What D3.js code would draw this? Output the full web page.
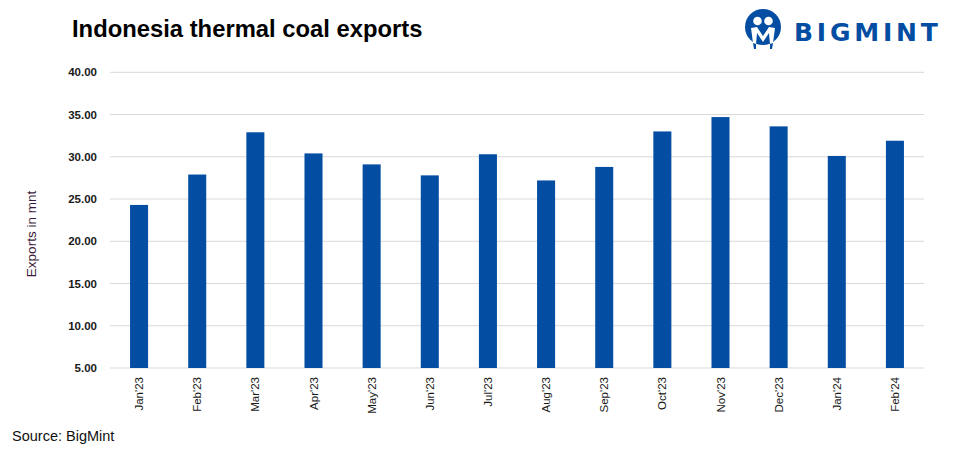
<!DOCTYPE html>
<html>
<head>
<meta charset="utf-8">
<script src="https://cdn.jsdelivr.net/npm/d3@7"></script>
<style>
  body { margin: 0; background: #fff; }
  svg { display: block; font-family: "Liberation Sans", Arial, sans-serif; }
</style>
</head>
<body>
<svg id="chart" width="960" height="450"></svg>
<script>
const months = ["Jan'23", "Feb'23", "Mar'23", "Apr'23", "May'23", "Jun'23", "Jul'23",
  "Aug'23", "Sep'23", "Oct'23", "Nov'23", "Dec'23", "Jan'24", "Feb'24"];
const exports_mnt = [24.3, 27.9, 32.9, 30.4, 29.1, 27.8, 30.3, 27.2, 28.8, 33.0, 34.7, 33.6, 30.1, 31.9];
const y_ticks = [5, 10, 15, 20, 25, 30, 35, 40];

(function() {
  const svg = d3.select('#chart');
  const bar_color = '#034ea2';

  const xScale = d3.scaleBand().domain(months).range([110, 924]).paddingInner(0.69).paddingOuter(0.345);
  const yScale = d3.scaleLinear().domain([5, 40]).range([368, 72.3]);

  // title
  svg.append('text').attr('x', 72).attr('y', 37).attr('font-size', 23.8).attr('font-weight', 'bold')
    .attr('fill', '#000').text('Indonesia thermal coal exports');

  // gridlines
  svg.append('g').selectAll('line').data(y_ticks).enter().append('line')
    .attr('x1', 110).attr('x2', 924)
    .attr('y1', function(d) { return yScale(d); }).attr('y2', function(d) { return yScale(d); })
    .attr('stroke', '#d9d9d9').attr('stroke-width', 1);

  // y tick labels
  svg.append('g').selectAll('text').data(y_ticks).enter().append('text')
    .attr('x', 97).attr('y', function(d) { return yScale(d) + 4; })
    .attr('text-anchor', 'end').attr('font-size', 11.5).attr('font-weight', 'bold').attr('fill', '#1a1a1a')
    .text(function(d) { return d3.format('.2f')(d); });

  // y axis title
  svg.append('text').attr('transform', 'translate(36,234) rotate(-90)')
    .attr('text-anchor', 'middle').attr('font-size', 13.5).attr('fill', '#3b1a3b').text('Exports in mnt');

  // bars
  svg.append('g').selectAll('rect').data(exports_mnt).enter().append('rect')
    .attr('x', function(d, i) { return xScale(months[i]); })
    .attr('width', xScale.bandwidth())
    .attr('y', function(d) { return yScale(d); })
    .attr('height', function(d) { return yScale(5) - yScale(d); })
    .attr('fill', bar_color);

  // x labels
  svg.append('g').selectAll('text').data(months).enter().append('text')
    .attr('transform', function(d) {
      const cx = xScale(d) + xScale.bandwidth() / 2 + 4;
      return 'translate(' + cx + ',377) rotate(-90)';
    })
    .attr('text-anchor', 'end').attr('font-size', 11.5).attr('fill', '#1a1a1a').text(function(d) { return d; });

  // source
  svg.append('text').attr('x', 12).attr('y', 441).attr('font-size', 14.5).attr('fill', '#111').text('Source: BigMint');

  // logo
  const logo = svg.append('g');
  logo.append('circle').attr('cx', 763).attr('cy', 27).attr('r', 18).attr('fill', bar_color);
  logo.append('circle').attr('cx', 757.5).attr('cy', 21).attr('r', 4.3).attr('fill', '#fff');
  logo.append('circle').attr('cx', 768.5).attr('cy', 21).attr('r', 4.3).attr('fill', '#fff');
  logo.append('path').attr('d', 'M751,28 L757,27 L763,36 L769,27 L775,28 L773,43 L770,44 L769,33 L763,42 L757,33 L756,44 L753,43 Z')
    .attr('fill', '#fff');
  logo.append('path').attr('d', 'M753,43 L756,44 L756,49 L754,49 Z M770,44 L773,43 L772,49 L770,49 Z')
    .attr('fill', bar_color);
  logo.append('text').attr('x', 794).attr('y', 41).attr('font-size', 25).attr('font-weight', 900)
    .attr('letter-spacing', 3.8).attr('fill', bar_color)
    .attr('font-family', '"DejaVu Sans", "Liberation Sans", sans-serif').text('BIGMINT');
}());
</script>
</body>
</html>
